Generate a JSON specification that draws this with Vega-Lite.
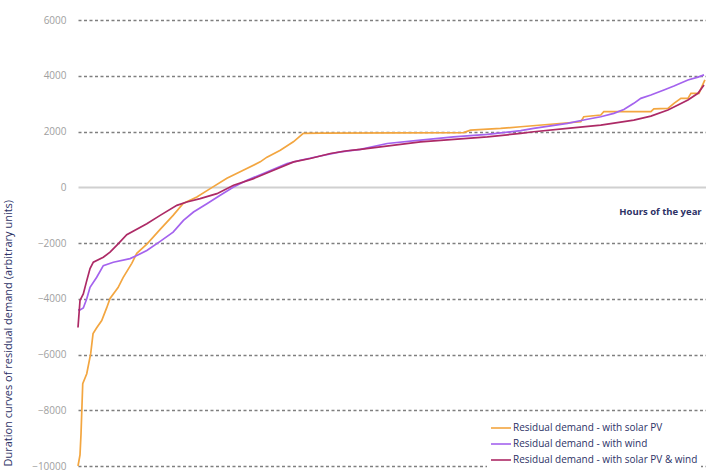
{
  "$schema": "https://vega.github.io/schema/vega-lite/v6.json",
  "width": 628,
  "height": 446,
  "autosize": "none",
  "padding": {"left": 78, "top": 20, "right": 0, "bottom": 4},
  "config": {
    "view": {"stroke": null},
    "font": "Open Sans"
  },
  "datasets": {
    "curves": [
      {"s": "Residual demand - with solar PV", "h": 0, "v": -10000},
      {"s": "Residual demand - with solar PV", "h": 28, "v": -9600},
      {"s": "Residual demand - with solar PV", "h": 42, "v": -8850},
      {"s": "Residual demand - with solar PV", "h": 66, "v": -7050},
      {"s": "Residual demand - with solar PV", "h": 122, "v": -6690},
      {"s": "Residual demand - with solar PV", "h": 177, "v": -5970},
      {"s": "Residual demand - with solar PV", "h": 210, "v": -5250},
      {"s": "Residual demand - with solar PV", "h": 261, "v": -5040},
      {"s": "Residual demand - with solar PV", "h": 331, "v": -4780},
      {"s": "Residual demand - with solar PV", "h": 401, "v": -4320},
      {"s": "Residual demand - with solar PV", "h": 447, "v": -3990},
      {"s": "Residual demand - with solar PV", "h": 559, "v": -3600},
      {"s": "Residual demand - with solar PV", "h": 629, "v": -3240},
      {"s": "Residual demand - with solar PV", "h": 750, "v": -2730},
      {"s": "Residual demand - with solar PV", "h": 820, "v": -2370},
      {"s": "Residual demand - with solar PV", "h": 964, "v": -2030},
      {"s": "Residual demand - with solar PV", "h": 1146, "v": -1510},
      {"s": "Residual demand - with solar PV", "h": 1327, "v": -1010},
      {"s": "Residual demand - with solar PV", "h": 1467, "v": -580},
      {"s": "Residual demand - with solar PV", "h": 1658, "v": -350},
      {"s": "Residual demand - with solar PV", "h": 1844, "v": -50},
      {"s": "Residual demand - with solar PV", "h": 2077, "v": 320},
      {"s": "Residual demand - with solar PV", "h": 2305, "v": 610},
      {"s": "Residual demand - with solar PV", "h": 2542, "v": 910},
      {"s": "Residual demand - with solar PV", "h": 2636, "v": 1080},
      {"s": "Residual demand - with solar PV", "h": 2822, "v": 1330},
      {"s": "Residual demand - with solar PV", "h": 3004, "v": 1630},
      {"s": "Residual demand - with solar PV", "h": 3143, "v": 1930},
      {"s": "Residual demand - with solar PV", "h": 3381, "v": 1940},
      {"s": "Residual demand - with solar PV", "h": 4498, "v": 1950},
      {"s": "Residual demand - with solar PV", "h": 5378, "v": 1960},
      {"s": "Residual demand - with solar PV", "h": 5476, "v": 2050},
      {"s": "Residual demand - with solar PV", "h": 5895, "v": 2110},
      {"s": "Residual demand - with solar PV", "h": 6175, "v": 2170},
      {"s": "Residual demand - with solar PV", "h": 7013, "v": 2350},
      {"s": "Residual demand - with solar PV", "h": 7055, "v": 2530},
      {"s": "Residual demand - with solar PV", "h": 7292, "v": 2590},
      {"s": "Residual demand - with solar PV", "h": 7334, "v": 2710},
      {"s": "Residual demand - with solar PV", "h": 7991, "v": 2710},
      {"s": "Residual demand - with solar PV", "h": 8033, "v": 2810},
      {"s": "Residual demand - with solar PV", "h": 8229, "v": 2830},
      {"s": "Residual demand - with solar PV", "h": 8313, "v": 3010},
      {"s": "Residual demand - with solar PV", "h": 8410, "v": 3190},
      {"s": "Residual demand - with solar PV", "h": 8508, "v": 3190},
      {"s": "Residual demand - with solar PV", "h": 8550, "v": 3370},
      {"s": "Residual demand - with solar PV", "h": 8662, "v": 3370},
      {"s": "Residual demand - with solar PV", "h": 8713, "v": 3670},
      {"s": "Residual demand - with solar PV", "h": 8745, "v": 3850},

      {"s": "Residual demand - with wind", "h": 0, "v": -4400},
      {"s": "Residual demand - with wind", "h": 28, "v": -4400},
      {"s": "Residual demand - with wind", "h": 74, "v": -4330},
      {"s": "Residual demand - with wind", "h": 122, "v": -4000},
      {"s": "Residual demand - with wind", "h": 168, "v": -3590},
      {"s": "Residual demand - with wind", "h": 261, "v": -3230},
      {"s": "Residual demand - with wind", "h": 353, "v": -2810},
      {"s": "Residual demand - with wind", "h": 493, "v": -2690},
      {"s": "Residual demand - with wind", "h": 726, "v": -2560},
      {"s": "Residual demand - with wind", "h": 820, "v": -2450},
      {"s": "Residual demand - with wind", "h": 960, "v": -2270},
      {"s": "Residual demand - with wind", "h": 1146, "v": -1940},
      {"s": "Residual demand - with wind", "h": 1327, "v": -1610},
      {"s": "Residual demand - with wind", "h": 1471, "v": -1190},
      {"s": "Residual demand - with wind", "h": 1611, "v": -890},
      {"s": "Residual demand - with wind", "h": 1798, "v": -590},
      {"s": "Residual demand - with wind", "h": 1984, "v": -290},
      {"s": "Residual demand - with wind", "h": 2170, "v": 10},
      {"s": "Residual demand - with wind", "h": 2357, "v": 250},
      {"s": "Residual demand - with wind", "h": 2636, "v": 550},
      {"s": "Residual demand - with wind", "h": 2916, "v": 850},
      {"s": "Residual demand - with wind", "h": 3101, "v": 970},
      {"s": "Residual demand - with wind", "h": 3381, "v": 1120},
      {"s": "Residual demand - with wind", "h": 3661, "v": 1270},
      {"s": "Residual demand - with wind", "h": 3940, "v": 1360},
      {"s": "Residual demand - with wind", "h": 4313, "v": 1570},
      {"s": "Residual demand - with wind", "h": 4778, "v": 1690},
      {"s": "Residual demand - with wind", "h": 5239, "v": 1810},
      {"s": "Residual demand - with wind", "h": 5710, "v": 1900},
      {"s": "Residual demand - with wind", "h": 6175, "v": 2030},
      {"s": "Residual demand - with wind", "h": 6356, "v": 2110},
      {"s": "Residual demand - with wind", "h": 6827, "v": 2290},
      {"s": "Residual demand - with wind", "h": 7106, "v": 2440},
      {"s": "Residual demand - with wind", "h": 7292, "v": 2530},
      {"s": "Residual demand - with wind", "h": 7474, "v": 2650},
      {"s": "Residual demand - with wind", "h": 7614, "v": 2790},
      {"s": "Residual demand - with wind", "h": 7753, "v": 3010},
      {"s": "Residual demand - with wind", "h": 7851, "v": 3190},
      {"s": "Residual demand - with wind", "h": 7991, "v": 3310},
      {"s": "Residual demand - with wind", "h": 8173, "v": 3490},
      {"s": "Residual demand - with wind", "h": 8313, "v": 3630},
      {"s": "Residual demand - with wind", "h": 8508, "v": 3850},
      {"s": "Residual demand - with wind", "h": 8648, "v": 3950},
      {"s": "Residual demand - with wind", "h": 8732, "v": 4030},

      {"s": "Residual demand - with solar PV & wind", "h": 0, "v": -5030},
      {"s": "Residual demand - with solar PV & wind", "h": 28, "v": -4060},
      {"s": "Residual demand - with solar PV & wind", "h": 74, "v": -3830},
      {"s": "Residual demand - with solar PV & wind", "h": 122, "v": -3350},
      {"s": "Residual demand - with solar PV & wind", "h": 168, "v": -2920},
      {"s": "Residual demand - with solar PV & wind", "h": 214, "v": -2690},
      {"s": "Residual demand - with solar PV & wind", "h": 353, "v": -2510},
      {"s": "Residual demand - with solar PV & wind", "h": 447, "v": -2330},
      {"s": "Residual demand - with solar PV & wind", "h": 560, "v": -2030},
      {"s": "Residual demand - with solar PV & wind", "h": 680, "v": -1700},
      {"s": "Residual demand - with solar PV & wind", "h": 960, "v": -1310},
      {"s": "Residual demand - with solar PV & wind", "h": 1146, "v": -1010},
      {"s": "Residual demand - with solar PV & wind", "h": 1379, "v": -650},
      {"s": "Residual demand - with solar PV & wind", "h": 1518, "v": -530},
      {"s": "Residual demand - with solar PV & wind", "h": 1704, "v": -410},
      {"s": "Residual demand - with solar PV & wind", "h": 1938, "v": -230},
      {"s": "Residual demand - with solar PV & wind", "h": 2170, "v": 70},
      {"s": "Residual demand - with solar PV & wind", "h": 2449, "v": 310},
      {"s": "Residual demand - with solar PV & wind", "h": 2728, "v": 610},
      {"s": "Residual demand - with solar PV & wind", "h": 3008, "v": 910},
      {"s": "Residual demand - with solar PV & wind", "h": 3241, "v": 1030},
      {"s": "Residual demand - with solar PV & wind", "h": 3520, "v": 1210},
      {"s": "Residual demand - with solar PV & wind", "h": 3754, "v": 1310},
      {"s": "Residual demand - with solar PV & wind", "h": 3940, "v": 1360},
      {"s": "Residual demand - with solar PV & wind", "h": 4778, "v": 1630},
      {"s": "Residual demand - with solar PV & wind", "h": 5710, "v": 1810},
      {"s": "Residual demand - with solar PV & wind", "h": 6175, "v": 1930},
      {"s": "Residual demand - with solar PV & wind", "h": 6356, "v": 1990},
      {"s": "Residual demand - with solar PV & wind", "h": 6827, "v": 2110},
      {"s": "Residual demand - with solar PV & wind", "h": 7292, "v": 2230},
      {"s": "Residual demand - with solar PV & wind", "h": 7753, "v": 2410},
      {"s": "Residual demand - with solar PV & wind", "h": 7991, "v": 2550},
      {"s": "Residual demand - with solar PV & wind", "h": 8229, "v": 2770},
      {"s": "Residual demand - with solar PV & wind", "h": 8369, "v": 2950},
      {"s": "Residual demand - with solar PV & wind", "h": 8508, "v": 3130},
      {"s": "Residual demand - with solar PV & wind", "h": 8648, "v": 3370},
      {"s": "Residual demand - with solar PV & wind", "h": 8732, "v": 3670}
    ],
    "label": [{"h": 8700, "v": -900, "t": "Hours of the year"}]
  },
  "layer": [
    {
      "data": {"name": "curves"},
      "mark": {"type": "line", "strokeWidth": 1.7, "interpolate": "linear"},
      "encoding": {
        "x": {"field": "h", "type": "quantitative", "scale": {"domain": [0, 8760], "nice": false, "zero": false}, "axis": null},
        "y": {
          "field": "v", "type": "quantitative",
          "scale": {"domain": [-10000, 6000], "nice": false},
          "axis": {
            "values": [-10000, -8000, -6000, -4000, -2000, 0, 2000, 4000, 6000],
            "format": "d",
            "domain": false,
            "ticks": false,
            "labelPadding": 12,
            "labelColor": "#a0a0a0",
            "labelFontSize": 10,
            "labelFont": "Open Sans",
            "grid": true,
            "gridColor": {"condition": {"test": "datum.value === 0", "value": "#d0d0d0"}, "value": "#7f7f7f"},
            "gridDash": {"condition": {"test": "datum.value === 0", "value": []}, "value": [3, 2.5]},
            "gridWidth": {"condition": {"test": "datum.value === 0", "value": 2}, "value": 1.4},
            "title": "Duration curves of residual demand (arbitrary units)",
            "titleAnchor": "start",
            "titleColor": "#2d3266",
            "titleFont": "Open Sans",
            "titleFontSize": 11,
            "titleFontWeight": "normal",
            "titlePadding": 18
          }
        },
        "color": {
          "field": "s", "type": "nominal",
          "scale": {
            "domain": ["Residual demand - with solar PV", "Residual demand - with wind", "Residual demand - with solar PV & wind"],
            "range": ["#f3a640", "#a463ee", "#ad2a66"]
          },
          "legend": {
            "orient": "none",
            "legendX": 409,
            "legendY": 394,
            "title": null,
            "symbolType": "stroke",
            "symbolSize": 400,
            "symbolStrokeWidth": 1.6,
            "labelFont": "Open Sans",
            "labelFontSize": 10,
            "labelColor": "#2d3266",
            "labelLimit": 400,
            "labelOffset": 1,
            "rowPadding": 0,
            "fillColor": "white",
            "padding": 3
          }
        }
      }
    },
    {
      "data": {"name": "label"},
      "mark": {"type": "text", "align": "right", "baseline": "middle", "font": "Open Sans", "fontSize": 9.5, "fontWeight": "bold", "color": "#2d3266"},
      "encoding": {
        "x": {"field": "h", "type": "quantitative"},
        "y": {"field": "v", "type": "quantitative"},
        "text": {"field": "t"}
      }
    }
  ]
}
